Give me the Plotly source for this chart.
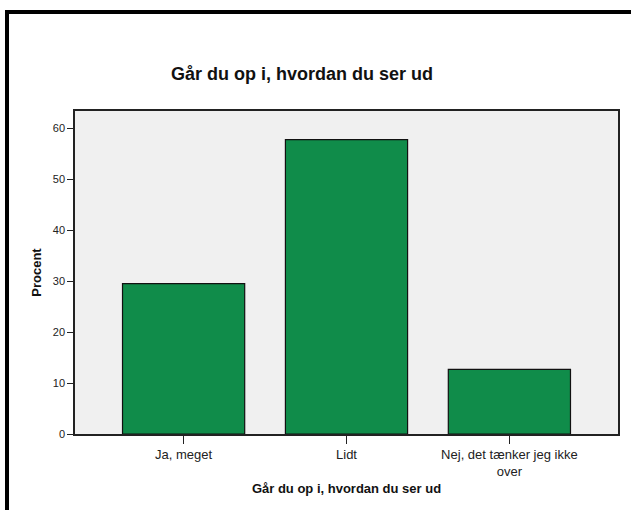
import plotly.graph_objects as go

categories = ["Ja, meget", "Lidt", "Nej, det tænker jeg ikke<br>over"]
percent = [29.5, 57.8, 12.7]
y_ticks = [0, 10, 20, 30, 40, 50, 60]

W, H = 631, 510
L, R, T, B = 75, 13, 111, 76
PW, PH = W - L - R, H - T - B


def px_x(x):
    return (x - L) / PW


def px_y(y):
    return (H - B - y) / PH


fig = go.Figure()
fig.add_trace(
    go.Bar(
        x=categories,
        y=percent,
        width=0.75,
        marker=dict(color="#108c4a", line=dict(color="#111111", width=1.2)),
    )
)

# black frame from the original export (left and top edges only)
fig.add_shape(type="line", xref="paper", yref="paper",
              x0=px_x(7), x1=px_x(7), y0=px_y(10), y1=px_y(520),
              line=dict(color="black", width=4))
fig.add_shape(type="line", xref="paper", yref="paper",
              x0=px_x(5), x1=px_x(640), y0=px_y(12), y1=px_y(12),
              line=dict(color="black", width=4))

font = "Liberation Sans, Arial, sans-serif"
fig.update_layout(
    width=W,
    height=H,
    margin=dict(l=L, r=R, t=T, b=B),
    paper_bgcolor="white",
    plot_bgcolor="#f0f0f0",
    showlegend=False,
    font=dict(family=font, color="#222222", size=11),
    title=dict(
        text="<b>Går du op i, hvordan du ser ud</b>",
        x=px_x(302), xref="paper", xanchor="center",
        y=1 - 74 / H, yref="container", yanchor="middle",
        font=dict(size=18, color="#111111"),
    ),
)
fig.update_xaxes(
    range=[-2 / 3, 2 + 2 / 3],
    showline=True, linecolor="#222222", linewidth=1.5, mirror=True,
    ticks="outside", ticklen=8, tickcolor="#222222",
    showgrid=False,
    tickfont=dict(size=13, color="#222222"),
    title=dict(text="<b>Går du op i, hvordan du ser ud</b>", standoff=6,
               font=dict(size=13, color="#111111")),
)
fig.update_yaxes(
    range=[0, 63.4],
    tickvals=y_ticks,
    showline=True, linecolor="#222222", linewidth=1.5, mirror=True,
    ticks="outside", ticklen=6, tickcolor="#222222",
    showgrid=False, zeroline=False,
    tickfont=dict(size=11, color="#222222"),
    title=dict(text="<b>Procent</b>", standoff=8,
               font=dict(size=13, color="#111111")),
)

fig.write_html("out.html", config={"displayModeBar": False},
               post_script="document.body.style.margin='0';")
